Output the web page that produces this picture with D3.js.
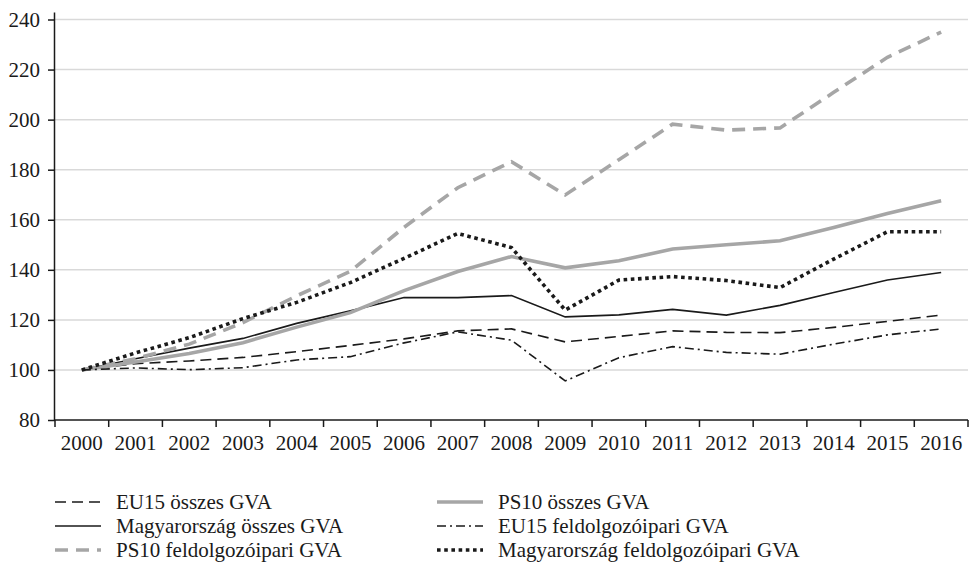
<!DOCTYPE html>
<html>

<head>
    <meta charset="UTF-8">
    <title>GVA</title>
    <script src="https://cdn.jsdelivr.net/npm/d3@7"></script>
    <style>
        body {
            margin: 0;
            background: #fff;
        }

        svg text {
            font-family: "Liberation Serif", "DejaVu Serif", serif;
            fill: #1a1a1a;
        }

        .grid line {
            stroke: #d9d9d9;
            stroke-width: 1.5px;
        }

        .line {
            fill: none;
        }
    </style>
</head>

<body>
    <svg id="chart" width="970" height="568"></svg>

    <script>
        // years
        const years = ['2000', '2001', '2002', '2003', '2004', '2005', '2006', '2007', '2008',
            '2009', '2010', '2011', '2012', '2013', '2014', '2015', '2016'];

        const yTicks = [80, 100, 120, 140, 160, 180, 200, 220, 240];

        // series values (2000 = 100)
        const eu15Total = [100, 102.5, 103.6, 105, 107.3, 109.8, 112.4, 115.6, 116.4, 111.2, 113.4,
            115.6, 115, 114.9, 117, 119.4, 121.9];
        const huTotal = [100, 104.5, 108.7, 112.6, 118.6, 123.6, 128.9, 128.9, 129.7, 121.2, 122,
            124.2, 121.9, 125.8, 130.9, 135.9, 138.9];
        const ps10Manuf = [100, 104.5, 110.3, 118.9, 129.6, 139.4, 157, 172.8, 183.2, 169.9, 184,
            198.2, 195.8, 196.7, 210.9, 224.9, 235];
        const ps10Total = [100, 103.2, 106.6, 110.9, 117.1, 122.9, 131.7, 139.3, 145.3, 140.8, 143.6,
            148.3, 150, 151.6, 156.9, 162.5, 167.6];
        const eu15Manuf = [100, 100.8, 100.1, 100.9, 104, 105.3, 110.8, 115.2, 111.9, 95.6, 104.9,
            109.3, 107, 106.3, 110.3, 114, 116.4];
        const huManuf = [100, 106.8, 112.9, 120.5, 127, 134.9, 144.6, 154.5, 148.9, 123.9, 135.9,
            137.3, 135.7, 132.9, 144.3, 155.2, 155.2];

        const names = ['EU15 összes GVA', 'Magyarország összes GVA', 'PS10 feldolgozóipari GVA',
            'PS10 összes GVA', 'EU15 feldolgozóipari GVA', 'Magyarország feldolgozóipari GVA'];

        const grey = '#a6a6a6';

        const series = [
            { name: names[0], values: eu15Total, color: '#1a1a1a', width: 1.6, dash: '11,6' },
            { name: names[1], values: huTotal, color: '#1a1a1a', width: 1.6, dash: null },
            { name: names[2], values: ps10Manuf, color: grey, width: 3.6, dash: '13,8' },
            { name: names[3], values: ps10Total, color: grey, width: 3.6, dash: null },
            { name: names[4], values: eu15Manuf, color: '#1a1a1a', width: 1.6, dash: '9,4,2,4' },
            { name: names[5], values: huManuf, color: '#1a1a1a', width: 3.6, dash: '3.6,3.6' }
        ];

        const margin = { top: 19.5, right: 2, bottom: 148, left: 55 };
        const width = 968 - margin.left;
        const height = 420 - margin.top;

        const svg = d3.select('#chart');

        const g = svg.append('g')
            .attr('transform', `translate(${ margin.left },${ margin.top })`);

        const x = d3.scaleBand()
            .domain(years)
            .range([0, width]);

        const y = d3.scaleLinear()
            .domain([80, 240])
            .range([height, 0]);

        // gridlines
        g.append('g')
            .attr('class', 'grid')
            .selectAll('line')
            .data(yTicks.filter(d => d > 80))
            .enter()
            .append('line')
            .attr('x1', 0)
            .attr('x2', width)
            .attr('y1', d => y(d))
            .attr('y2', d => y(d));

        // y axis
        const yAxis = g.append('g')
            .call(d3.axisLeft(y).tickValues(yTicks).tickSize(7).tickPadding(8))
            .attr('font-family', null)
            .attr('font-size', null);
        yAxis.select('.domain').attr('d', `M-0.5,${ -7 }V${ height }`);
        yAxis.selectAll('path, line').attr('stroke', '#1a1a1a').attr('stroke-width', 1.5);
        yAxis.selectAll('text').style('font-size', '21px');

        // x axis, ticks between the years
        const xAxis = g.append('g')
            .attr('transform', `translate(0,${ height })`)
            .call(d3.axisBottom(x).tickSize(0).tickPadding(15))
            .attr('font-family', null)
            .attr('font-size', null);
        xAxis.select('.domain').attr('d', `M0,0H${ width }`);
        xAxis.selectAll('path').attr('stroke', '#1a1a1a').attr('stroke-width', 1.5);
        xAxis.selectAll('text').style('font-size', '21px');

        const edges = years.map(d => x(d)).concat([width]);
        xAxis.selectAll('.edge')
            .data(edges)
            .enter()
            .append('line')
            .attr('x1', d => d)
            .attr('x2', d => d)
            .attr('y1', 0)
            .attr('y2', 7)
            .attr('stroke', '#1a1a1a')
            .attr('stroke-width', 1.5);

        const lineGenerator = d3.line()
            .x((d, i) => x(years[i]) + x.bandwidth() / 2)
            .y(d => y(d));

        g.append('g')
            .selectAll('path')
            .data(series)
            .enter()
            .append('path')
            .attr('class', 'line')
            .attr('d', d => lineGenerator(d.values))
            .attr('stroke', d => d.color)
            .attr('stroke-width', d => d.width)
            .attr('stroke-dasharray', d => d.dash)
            .attr('stroke-linejoin', 'miter');

        // legend, two columns of three
        const legend = svg.append('g');
        const item = legend.selectAll('g')
            .data(series)
            .enter()
            .append('g')
            .attr('transform', (d, i) => `translate(${ i < 3 ? 55 : 437 },${ 502 + (i % 3) * 24 })`);

        item.append('line')
            .attr('x1', 0)
            .attr('x2', 46)
            .attr('y1', 0)
            .attr('y2', 0)
            .attr('stroke', d => d.color)
            .attr('stroke-width', d => d.width)
            .attr('stroke-dasharray', d => d.dash);

        item.append('text')
            .attr('x', 61)
            .attr('y', 0)
            .attr('dy', '0.33em')
            .style('font-size', '21px')
            .text(d => d.name);
    </script>
</body>

</html>
